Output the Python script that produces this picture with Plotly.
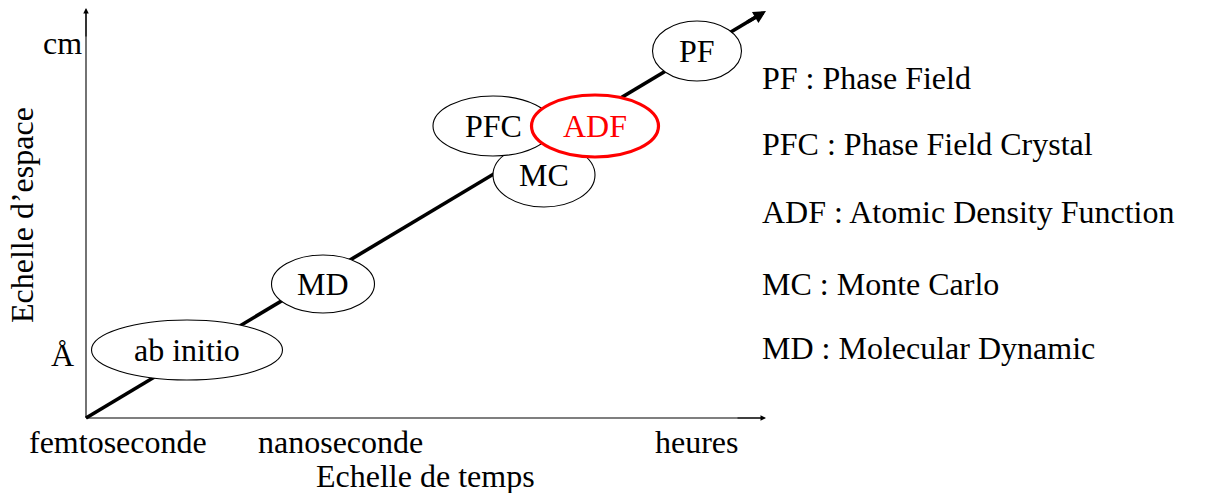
import plotly.graph_objects as go

# ---- data (diagram units: x = time scale, y = space scale, origin at axes corner) ----
methods = ["ab initio", "MD", "MC", "PFC", "ADF", "PF"]
method_x = [101, 237, 458, 407, 509, 611]
method_y = [68, 134, 243, 292, 292, 367]
method_w = [191, 103, 102, 120, 127, 89]
method_h = [60, 58, 64, 60, 62, 60]
highlight = "ADF"

time_ticks = ["femtoseconde", "nanoseconde", "heures"]
time_tick_pos = [32, 254, 611]
space_ticks = ["Å", "cm"]
space_tick_pos = [63, 375]

legend_lines = ["PF : Phase Field", "PFC : Phase Field Crystal",
                "ADF : Atomic Density Function", "MC : Monte Carlo",
                "MD : Molecular Dynamic"]
legend_y = [340, 274, 206, 134, 70]

axis_end_x = 680
axis_end_y = 410
trend_end = (680, 407)

FONT = "Liberation Serif"
FS = 32

fig = go.Figure()
shapes = []
annotations = []

# axes lines
shapes.append(dict(type="line", xref="x", yref="y", x0=0, y0=0, x1=axis_end_x - 2, y1=0,
                   line=dict(color="black", width=1.1)))
shapes.append(dict(type="line", xref="x", yref="y", x0=0, y0=0, x1=0, y1=axis_end_y - 2,
                   line=dict(color="black", width=1.1)))
# trend line
shapes.append(dict(type="line", xref="x", yref="y", x0=0, y0=0,
                   x1=trend_end[0] - 8, y1=trend_end[1] - 8 * trend_end[1] / trend_end[0],
                   line=dict(color="black", width=3.6)))

# arrow heads
annotations.append(dict(x=axis_end_x, y=0, ax=axis_end_x - 30, ay=0, xref="x", yref="y", axref="x", ayref="y",
                        text="", showarrow=True, arrowhead=2, arrowsize=1, arrowwidth=1.1, arrowcolor="black"))
annotations.append(dict(x=0, y=axis_end_y, ax=0, ay=axis_end_y - 30, xref="x", yref="y", axref="x", ayref="y",
                        text="", showarrow=True, arrowhead=2, arrowsize=1, arrowwidth=1.1, arrowcolor="black"))
annotations.append(dict(x=trend_end[0], y=trend_end[1], ax=trend_end[0] - 20,
                        ay=trend_end[1] - 20 * trend_end[1] / trend_end[0],
                        xref="x", yref="y", axref="x", ayref="y",
                        text="", showarrow=True, arrowhead=2, arrowsize=0.7, arrowwidth=3.6, arrowcolor="black"))

# ellipses
for name, cx, cy, w, h in zip(methods, method_x, method_y, method_w, method_h):
    red = name == highlight
    shapes.append(dict(type="circle", xref="x", yref="y",
                       x0=cx - w / 2, x1=cx + w / 2, y0=cy - h / 2, y1=cy + h / 2,
                       fillcolor="white", layer="above",
                       line=dict(color="#ff0000" if red else "black", width=3.2 if red else 1.1)))

for name, cx, cy in zip(methods, method_x, method_y):
    annotations.append(dict(x=cx, y=cy, xref="x", yref="y", text=name, showarrow=False,
                            font=dict(family=FONT, size=FS, color="#ff0000" if name == highlight else "black")))

for t, p in zip(time_ticks, time_tick_pos):
    annotations.append(dict(x=p, y=-24, xref="x", yref="y", text=t, showarrow=False,
                            font=dict(family=FONT, size=FS, color="black")))
for t, p in zip(space_ticks, space_tick_pos):
    annotations.append(dict(x=-24, y=p, xref="x", yref="y", text=t, showarrow=False,
                            font=dict(family=FONT, size=FS, color="black")))

annotations.append(dict(x=339, y=-58, xref="x", yref="y", text="Echelle de temps", showarrow=False,
                        font=dict(family=FONT, size=FS, color="black")))
annotations.append(dict(x=-64, y=203, xref="x", yref="y", text="Echelle d’espace", showarrow=False,
                        textangle=-90, font=dict(family=FONT, size=FS, color="black")))

for t, yy in zip(legend_lines, legend_y):
    annotations.append(dict(x=674, y=yy, xref="x", yref="y", text=t, showarrow=False, xanchor="left",
                            font=dict(family=FONT, size=FS, color="black")))

fig.update_layout(
    shapes=shapes,
    annotations=annotations,
    width=1209, height=493,
    margin=dict(l=0, r=0, t=0, b=0),
    paper_bgcolor="white", plot_bgcolor="white",
    showlegend=False,
    xaxis=dict(range=[-86, 1123], visible=False, fixedrange=True),
    yaxis=dict(range=[-75, 418], visible=False, fixedrange=True),
)

fig.write_html("out.html", config={"displayModeBar": False},
               post_script="document.body.style.margin='0';document.body.style.overflow='hidden';")
